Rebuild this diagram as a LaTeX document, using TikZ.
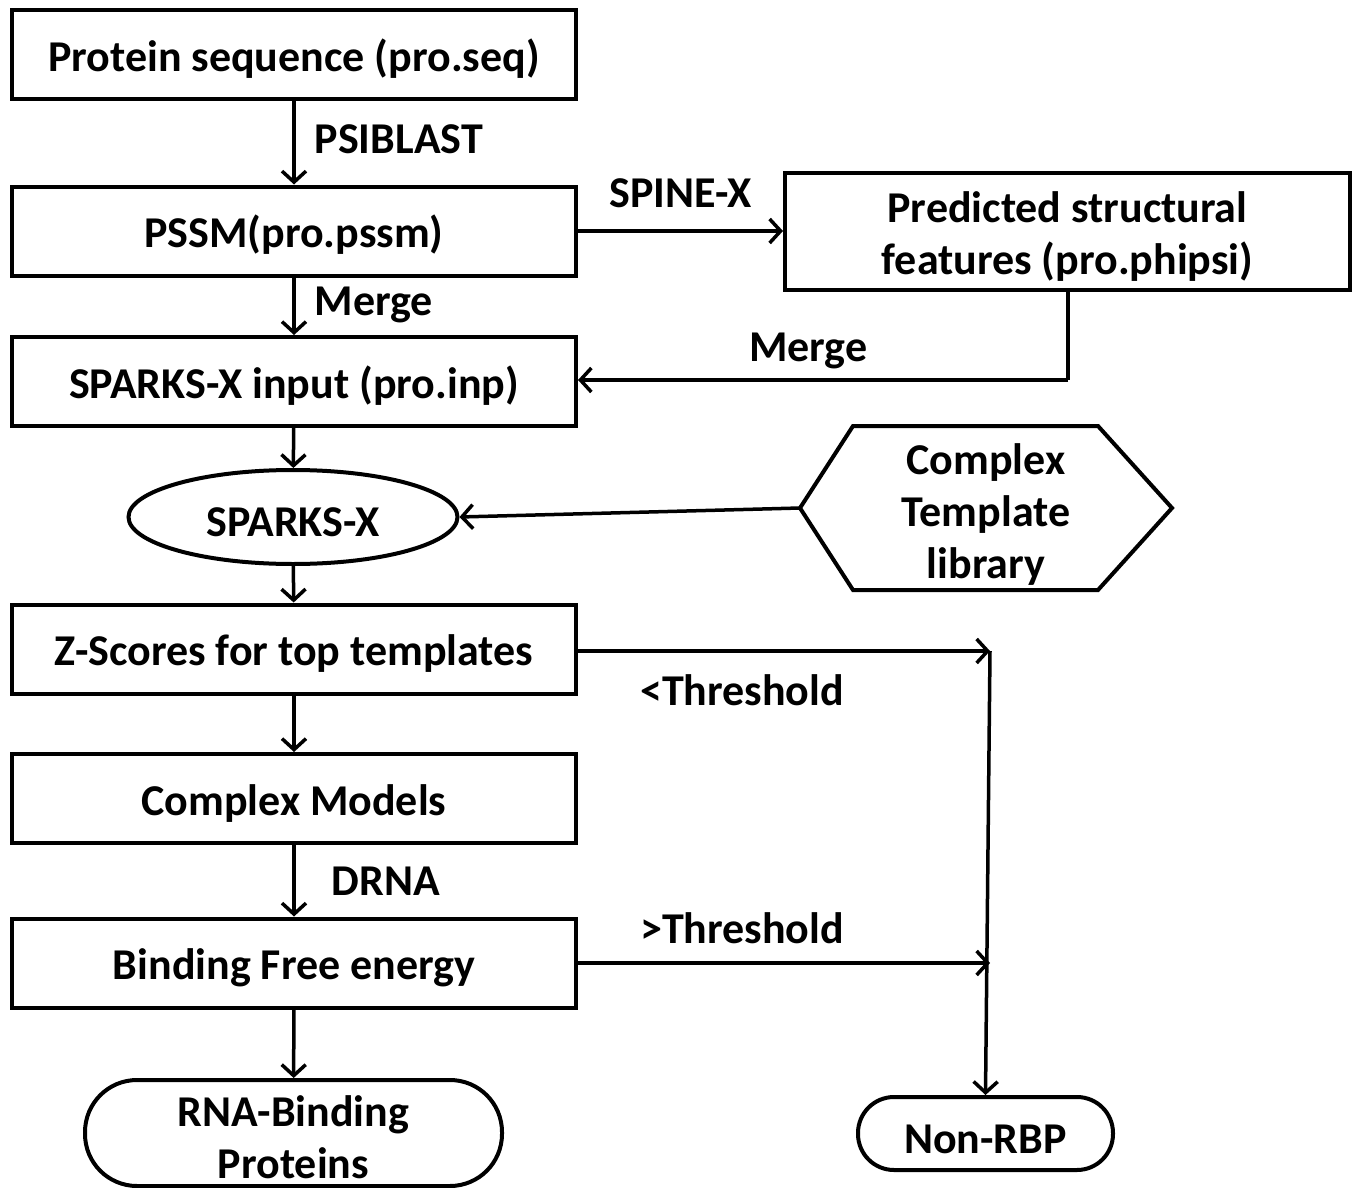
\documentclass[tikz,border=0pt]{standalone}
\usepackage{fontspec}
\setmainfont{Carlito}
\usetikzlibrary{arrows.meta,shapes.geometric,positioning}
\newcommand\upstrut{\rule{0pt}{40pt}}
\begin{document}
\begin{tikzpicture}[x=1pt,y=-1pt,
  every node/.style={font=\bfseries\fontsize{44}{52}\selectfont},
  procbox/.style={draw,line width=4pt,minimum width=564pt,minimum height=89pt,inner sep=0pt,align=center},
  lbl/.style={inner sep=0pt,text height=30pt,text depth=10pt,yshift=-5pt},
  arr/.style={line width=3.5pt,-{Straight Barb[length=11pt,width=24pt,line width=3.5pt]}},
  ln/.style={line width=3.5pt}
]
\useasboundingbox (0,0) rectangle (1360,1188);

% main column
\node[procbox] (seq) at (294,54.5) {\upstrut Protein sequence (pro.seq)};
\node[procbox] (pssm) at (294,231) {\upstrut PSSM(pro.pssm)};
\node[procbox] (inp) at (294,381.5) {\upstrut SPARKS-X input (pro.inp)};
\node[draw,ellipse,line width=4pt,minimum width=329pt,minimum height=94pt,inner sep=0pt] (spx) at (293,517) {\upstrut SPARKS-X};
\node[procbox] (zs) at (294,649) {\upstrut Z-Scores for top templates};
\node[procbox] (cm) at (294,798.5) {\upstrut Complex Models};
\node[procbox] (bfe) at (294,963) {\upstrut Binding Free energy};
\node[draw,line width=4pt,minimum width=417pt,minimum height=106pt,rounded corners=52pt,inner sep=0pt,align=center] (rbp) at (293.5,1133) {\upstrut RNA-Binding\\Proteins};

% right column
\node[draw,line width=4pt,minimum width=565pt,minimum height=117pt,inner sep=0pt,align=center] (pred) at (1067.5,231.5) {\upstrut Predicted structural\\features (pro.phipsi)};
\coordinate (hl) at (800,508);
\coordinate (htl) at (853,426);
\coordinate (htr) at (1098,426);
\coordinate (hr) at (1172,508);
\coordinate (hbr) at (1098,590);
\coordinate (hbl) at (853,590);
\draw[line width=4pt,line join=miter] (hl) -- (htl) -- (htr) -- (hr) -- (hbr) -- (hbl) -- cycle;
\node[align=center,inner sep=0pt] (hex) at (986,510) {\upstrut Complex\\Template\\library};
\node[draw,line width=4pt,minimum width=255pt,minimum height=73pt,rounded corners=36pt,inner sep=0pt] (non) at (985.5,1133.5) {\upstrut Non-RBP};

\coordinate (zt) at (990,651);
\coordinate (bt) at (990,963);
\coordinate (mc) at (1068,380);

% connectors
\draw[arr] (seq) -- (pssm) node[pos=0.45,lbl,anchor=west,xshift=19pt] (l1) {PSIBLAST};
\draw[arr] (pssm) -- (inp) node[pos=0.4,lbl,anchor=west,xshift=19pt] (l2) {Merge};
\draw[arr] (pssm.east) -- (pssm.east -| pred.west) node[midway,lbl,above=17pt] (l3) {SPINE-X};
\draw[ln] (pred.south -| mc) -- (mc);
\draw[arr] (mc) -- (mc -| inp.east) node[pos=0.53,lbl,above=12pt] (l4) {Merge};
\draw[arr] (inp) -- (spx);
\draw[arr] (hl) -- (spx.east);
\draw[arr] (spx) -- (zs);
\draw[arr] (zs.east |- zt) -- (zt);
\draw[arr] (zs) -- (cm);
\draw[arr] (cm) -- (bfe) node[pos=0.5,lbl,anchor=west,xshift=36pt] (l5) {DRNA};
\draw[arr] (bfe.east) -- (bt);
\draw[arr] (bfe) -- (rbp);
\draw[arr] (zt) -- (non.north);
\node[lbl,anchor=west] (l6) at (640,690) {<Threshold};
\node[lbl,anchor=west] (l7) at (640,928) {>Threshold};
\end{tikzpicture}
\end{document}
